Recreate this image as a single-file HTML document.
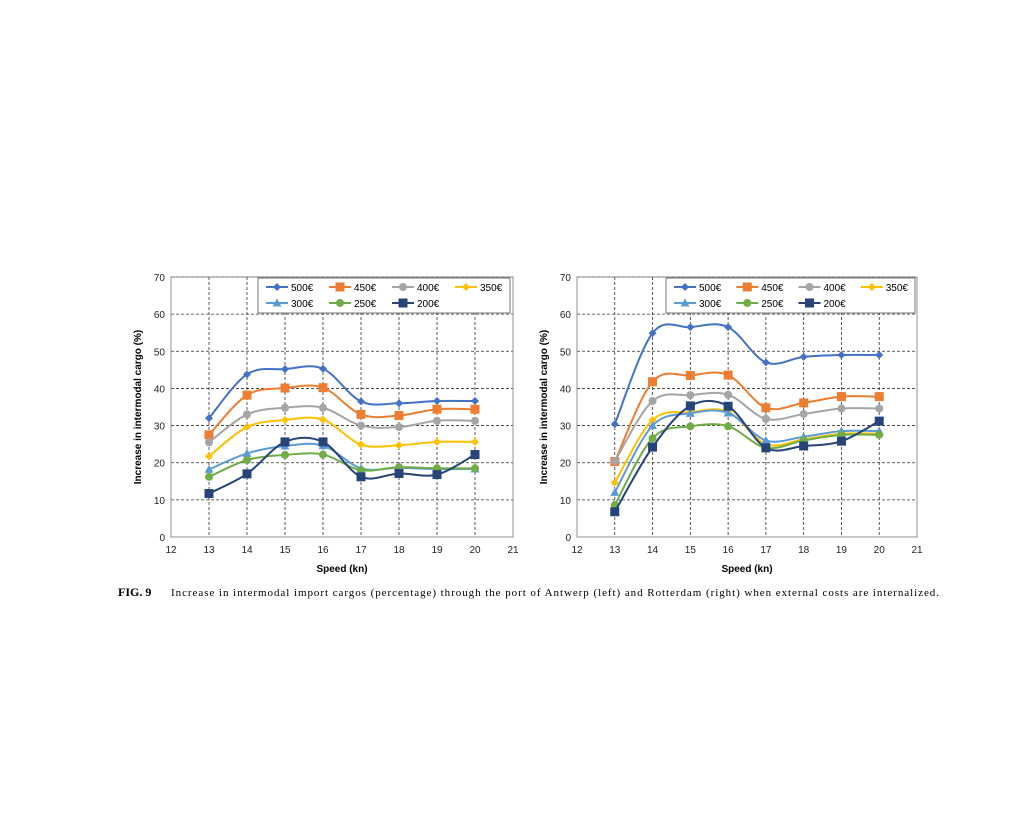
<!DOCTYPE html>
<html><head><meta charset="utf-8"><style>
body{margin:0;background:#fff;width:1024px;height:830px;overflow:hidden}
svg{position:absolute;left:0;top:0}
</style></head><body>
<svg id="s" width="1024" height="830"
 font-family="Liberation Sans, sans-serif">
<text x="118" y="596" font-family="Liberation Serif, serif" font-weight="bold" font-size="12">FIG. 9</text>
<text x="171" y="596" font-family="Liberation Serif, serif" font-size="11" textLength="768">Increase in intermodal import cargos (percentage) through the port of Antwerp (left) and Rotterdam (right) when external costs are internalized.</text>
</svg>
<script>
const xCats=[13,14,15,16,17,18,19,20];
const xTicks=[12,13,14,15,16,17,18,19,20,21];
const yTicks=[0,10,20,30,40,50,60,70];
const seriesNames=["500€","450€","400€","350€","300€","250€","200€"];
const antwerp500=[32,43.8,45.2,45.3,36.5,36,36.6,36.6];
const antwerp450=[27.5,38.2,40.1,40.2,33,32.7,34.4,34.4];
const antwerp400=[25.5,33,34.8,34.8,30,29.6,31.3,31.3];
const antwerp350=[21.7,29.6,31.5,31.6,24.9,24.7,25.6,25.6];
const antwerp300=[18.2,22.5,24.5,24.6,18.5,18.6,18.3,18.3];
const antwerp250=[16.2,20.7,22.1,22.2,18,18.8,18.5,18.5];
const antwerp200=[11.7,17,25.6,25.6,16.2,17.1,16.8,22.2];
const rotterdam500=[30.4,54.9,56.5,56.5,47,48.5,49,49];
const rotterdam450=[20.3,41.8,43.5,43.6,34.8,36.1,37.8,37.8];
const rotterdam400=[20.4,36.6,38.2,38.3,31.8,33.1,34.6,34.6];
const rotterdam350=[14.6,31.5,33.6,33.7,25,26.3,27.8,27.8];
const rotterdam300=[12,30,33.3,33.4,26,27,28.5,28.5];
const rotterdam250=[8.6,26.6,29.8,29.8,24,26,27.5,27.5];
const rotterdam200=[6.8,24.2,35.3,35.2,24,24.5,25.8,31.2];
const colors=["#4472C4","#ED7D31","#A5A5A5","#FFC000","#5B9BD5","#70AD47","#264478"];
const markers=["diamond","square","circle","diamond","triangle","circle","square"];
const NS="http://www.w3.org/2000/svg";
const svg=document.getElementById('s');
function mk(t,a,p){const e=document.createElementNS(NS,t);for(const k in a)e.setAttribute(k,a[k]);(p||svg).appendChild(e);return e;}
function chart(name,L,R,T,B,data,lg){
  const g=mk('g',{});
  
  
  const xs=v=>L+(v-12)/(21-12)*(R-L);
  const ys=v=>B-(v/70)*(B-T);
  yTicks.forEach(v=>{
    if(v>0){const l=mk('line',{x1:L,x2:R,y1:ys(v),y2:ys(v),stroke:'#333','stroke-width':0.8,'stroke-dasharray':'3,2'},g);
    }
    const t=mk('text',{x:L-6,y:ys(v)+4,'text-anchor':'end','font-size':10,fill:'#222'},g);t.textContent=v;
    
  });
  xTicks.forEach(v=>{
    if(v>12&&v<21){const l=mk('line',{x1:xs(v),x2:xs(v),y1:T,y2:B,stroke:'#333','stroke-width':0.8,'stroke-dasharray':'3,2'},g);
    }
    const t=mk('text',{x:xs(v),y:B+16,'text-anchor':'middle','font-size':10,fill:'#222'},g);t.textContent=v;
    
  });
  const fr=mk('rect',{x:L,y:T,width:R-L,height:B-T,fill:'none',stroke:'#777','stroke-width':0.8},g);
  
  const xt=mk('text',{x:(L+R)/2,y:B+35,'text-anchor':'middle','font-size':10,'font-weight':'bold'},g);xt.textContent='Speed (kn)';
  
  const yx=L-30,yy=(T+B)/2;
  const yt=mk('text',{x:yx,y:yy,'text-anchor':'middle','font-size':10,'font-weight':'bold',transform:`rotate(-90 ${yx} ${yy})`},g);yt.textContent='Increase in intermodal cargo (%)';
  
  function marker(m,x,y,c,p,s){
    let e;
    if(m==='diamond')e=mk('path',{d:`M${x} ${y-4}L${x+4} ${y}L${x} ${y+4}L${x-4} ${y}Z`,fill:c},p);
    else if(m==='square')e=mk('rect',{x:x-4.5,y:y-4.5,width:9,height:9,fill:c},p);
    else if(m==='circle')e=mk('circle',{cx:x,cy:y,r:4,fill:c},p);
    else e=mk('path',{d:`M${x} ${y-4.5}L${x+4.5} ${y+3.5}L${x-4.5} ${y+3.5}Z`,fill:c},p);
    
  }
  data.forEach((vals,i)=>{
    const sg=mk('g',{},g);
    
    
    const pts=vals.map((v,j)=>[xs(xCats[j]),ys(v)]);
    let d=`M${pts[0][0]} ${pts[0][1]}`;
    for(let j=0;j<pts.length-1;j++){
      const p0=pts[Math.max(0,j-1)],p1=pts[j],p2=pts[j+1],p3=pts[Math.min(pts.length-1,j+2)];
      const k=1/6;
      d+=`C${p1[0]+(p2[0]-p0[0])*k} ${p1[1]+(p2[1]-p0[1])*k} ${p2[0]-(p3[0]-p1[0])*k} ${p2[1]-(p3[1]-p1[1])*k} ${p2[0]} ${p2[1]}`;
    }
    const ln=mk('path',{d,fill:'none',stroke:colors[i],'stroke-width':2},sg);
    
    pts.forEach(p=>marker(markers[i],p[0],p[1],colors[i],sg));
  });
  const lgG=mk('g',{},g);
  
  mk('rect',{x:lg[0],y:lg[1],width:lg[2],height:35,fill:'#fff',stroke:'#555','stroke-width':0.8},lgG);
  const cw=lg[2]/4;
  seriesNames.forEach((n,i)=>{
    const cx=lg[0]+8+(i%4)*cw,cy=lg[1]+9+Math.floor(i/4)*16;
    const e=mk('g',{},lgG);
    
    mk('line',{x1:cx,x2:cx+22,y1:cy,y2:cy,stroke:colors[i],'stroke-width':2},e);
    marker(markers[i],cx+11,cy,colors[i],e);
    const t=mk('text',{x:cx+25,y:cy+4,'font-size':10},e);t.textContent=n;
  });
}
chart('antwerp-chart',171,513,277,537,[antwerp500,antwerp450,antwerp400,antwerp350,antwerp300,antwerp250,antwerp200],[258,278,252]);
chart('rotterdam-chart',577,917,277,537,[rotterdam500,rotterdam450,rotterdam400,rotterdam350,rotterdam300,rotterdam250,rotterdam200],[666,278,249]);
</script>
</body></html>
